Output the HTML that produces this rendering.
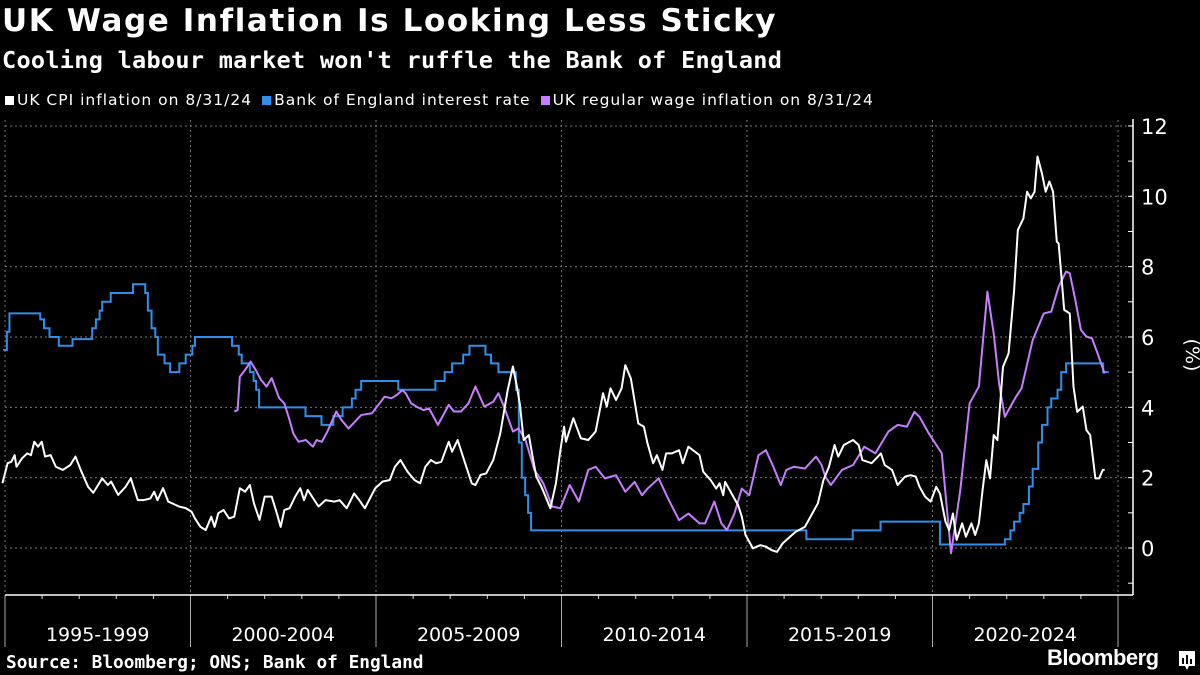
<!DOCTYPE html>
<html><head><meta charset="utf-8">
<style>
html,body{margin:0;padding:0;background:#000;}
body{width:1200px;height:675px;overflow:hidden;position:relative;font-family:"Liberation Sans",sans-serif;color:#fff;}
.title{position:absolute;left:2px;top:3px;font-family:"DejaVu Sans",sans-serif;font-size:31px;font-weight:bold;letter-spacing:1.6px;white-space:nowrap;}
.subtitle{position:absolute;left:2px;top:46px;font-family:"DejaVu Sans Mono",monospace;font-size:23.5px;font-weight:bold;white-space:nowrap;letter-spacing:0.3px;}
.legend{position:absolute;left:5px;top:91px;font-family:"DejaVu Sans",sans-serif;font-size:15.5px;display:flex;white-space:nowrap;letter-spacing:1.0px;}
.legend span.item{display:inline-flex;align-items:center;margin-right:10px;}
.sw{display:inline-block;width:9px;height:9px;margin-right:3px;}
.source{position:absolute;left:6px;top:652px;font-family:"DejaVu Sans Mono",monospace;font-size:17.8px;font-weight:bold;white-space:nowrap;}
.logo{position:absolute;left:1047px;top:645px;font-size:22px;font-weight:bold;letter-spacing:-0.5px;}
svg{position:absolute;left:0;top:0;}
</style></head>
<body>
<div class="title">UK Wage Inflation Is Looking Less Sticky</div>
<div class="subtitle">Cooling labour market won't ruffle the Bank of England</div>
<div class="legend">
 <span class="item"><span class="sw" style="background:#fff"></span>UK CPI inflation on 8/31/24</span>
 <span class="item"><span class="sw" style="background:#2f8fea"></span>Bank of England interest rate</span>
 <span class="item"><span class="sw" style="background:#c77dff"></span>UK regular wage inflation on 8/31/24</span>
</div>
<svg id="chart" width="1200" height="675"></svg>
<div class="source">Source: Bloomberg; ONS; Bank of England</div>
<div class="logo">Bloomberg</div>
<svg width="20" height="22" style="left:1177px;top:650px">
 <path d="M2 1h16v15h-6l-2 4-2-4H2z" fill="#fff"/>
 <rect x="5" y="8" width="2" height="6" fill="#000"/><rect x="9" y="5" width="2" height="9" fill="#000"/><rect x="13" y="9" width="2" height="5" fill="#000"/>
</svg>
<script>
const cpiT=[1994.93,1995.07,1995.17,1995.26,1995.31,1995.46,1995.6,1995.7,1995.79,1995.89,1995.99,1996.08,1996.23,1996.37,1996.56,1996.76,1996.9,1997.04,1997.24,1997.38,1997.62,1997.77,1997.86,1998.05,1998.25,1998.39,1998.58,1998.73,1998.92,1999.02,1999.11,1999.26,1999.4,1999.69,1999.88,2000.03,2000.12,2000.27,2000.41,2000.56,2000.65,2000.75,2000.89,2001.04,2001.18,2001.33,2001.47,2001.6,2001.71,2001.86,2002.0,2002.19,2002.34,2002.43,2002.53,2002.67,2002.82,2002.96,2003.06,2003.16,2003.45,2003.64,2003.88,2004.02,2004.21,2004.41,2004.55,2004.7,2004.98,2005.18,2005.37,2005.51,2005.66,2005.85,2006.04,2006.19,2006.33,2006.48,2006.62,2006.76,2006.96,2007.05,2007.2,2007.39,2007.58,2007.68,2007.82,2007.97,2008.16,2008.35,2008.55,2008.69,2008.79,2008.88,2008.98,2009.12,2009.22,2009.32,2009.46,2009.7,2009.85,
2009.97,2010.07,2010.12,2010.32,2010.52,2010.72,2010.92,2011.12,2011.22,2011.32,2011.47,2011.62,2011.72,2011.87,2012.07,2012.22,2012.32,2012.47,2012.57,2012.72,2012.82,2012.97,2013.17,2013.27,2013.42,2013.72,2013.82,2014.02,2014.17,2014.26,2014.36,2014.41,2014.61,2014.76,2014.86,2014.96,2015.16,2015.36,2015.51,2015.66,2015.81,2015.96,2016.16,2016.31,2016.56,2016.76,2016.91,2017.06,2017.21,2017.36,2017.46,2017.61,2017.86,2018.01,2018.11,2018.36,2018.61,2018.71,2018.91,2019.06,2019.26,2019.41,2019.55,2019.65,2019.8,2019.95,2020.1,2020.2,2020.35,2020.45,2020.55,2020.65,2020.8,2020.9,2021.05,2021.15,2021.25,2021.35,2021.45,2021.55,2021.65,2021.75,2021.9,2022.05,2022.2,2022.3,2022.45,2022.55,2022.65,2022.75,2022.83,2022.95,2023.05,2023.15,2023.25,2023.35,2023.4,2023.55,2023.7,2023.8,2023.9,2024.05,2024.15,2024.25,2024.39,2024.49,2024.59,2024.64];
const cpiV=[1.84,2.41,2.45,2.64,2.31,2.55,2.69,2.64,3.02,2.88,3.02,2.6,2.64,2.31,2.22,2.36,2.6,2.22,1.74,1.57,1.98,1.79,1.89,1.51,1.74,1.98,1.36,1.36,1.41,1.6,1.36,1.7,1.32,1.18,1.13,1.03,0.84,0.6,0.51,0.89,0.6,0.99,1.08,0.84,0.89,1.7,1.6,1.79,1.27,0.8,1.46,1.46,0.94,0.6,1.08,1.13,1.46,1.7,1.36,1.65,1.18,1.36,1.32,1.36,1.13,1.55,1.36,1.13,1.7,1.89,1.93,2.31,2.5,2.17,1.93,1.84,2.31,2.5,2.41,2.45,3.02,2.74,3.07,2.45,1.84,1.79,2.08,2.12,2.5,3.26,4.49,5.16,4.64,4.07,3.07,3.21,2.6,2.03,1.74,1.13,1.84,
2.78,3.45,3.02,3.69,3.12,3.07,3.31,4.4,4.02,4.54,4.21,4.54,5.2,4.82,3.54,3.45,2.97,2.41,2.64,2.22,2.69,2.69,2.78,2.41,2.88,2.64,2.17,1.93,1.69,1.84,1.5,1.88,1.5,1.22,0.89,0.37,-0.01,0.08,0.04,-0.06,-0.11,0.13,0.32,0.46,0.6,0.98,1.27,1.93,2.31,2.93,2.6,2.93,3.07,2.93,2.5,2.41,2.69,2.36,2.22,1.79,2.03,2.07,2.03,1.74,1.46,1.32,1.74,1.55,0.75,0.51,0.98,0.23,0.7,0.32,0.7,0.37,0.7,1.65,2.5,1.98,3.21,3.07,5.15,5.53,7.33,9.04,9.37,10.13,9.94,10.13,11.13,10.65,10.13,10.42,10.13,8.71,8.66,6.77,6.67,4.59,3.87,4.02,3.35,3.21,1.98,1.98,2.22,2.22];
const wageT=[2001.18,2001.27,2001.33,2001.47,2001.62,2001.76,2001.9,2002.05,2002.19,2002.39,2002.53,2002.67,2002.77,2002.91,2003.11,2003.3,2003.4,2003.54,2003.69,2003.93,2004.07,2004.26,2004.6,2004.89,2005.23,2005.42,2005.56,2005.71,2005.8,2005.95,2006.09,2006.28,2006.43,2006.67,2006.96,2007.1,2007.29,2007.49,2007.68,2007.92,2008.16,2008.3,2008.45,2008.69,2008.84,2009.03,2009.27,2009.51,2009.75,2009.97,2010.22,2010.47,2010.72,2010.92,2011.17,2011.47,2011.72,2011.97,2012.17,2012.32,2012.62,2012.87,2013.17,2013.42,2013.72,2013.87,2014.12,2014.31,2014.46,2014.66,2014.86,2015.06,2015.31,2015.51,2015.71,2015.91,2016.06,2016.26,2016.56,2016.86,2017.01,2017.11,2017.26,2017.56,2017.86,2018.16,2018.46,2018.81,2019.06,2019.31,2019.51,2019.65,2019.9,2020.25,2020.5,2020.75,2021.0,2021.25,2021.48,2021.65,2021.8,2021.95,2022.1,2022.25,2022.4,2022.7,2023.0,2023.2,2023.4,2023.6,2023.7,2023.85,2024.0,2024.15,2024.3,2024.45,2024.64];
const wageV=[3.88,3.92,4.87,5.06,5.3,5.06,4.78,4.59,4.83,4.26,4.11,3.64,3.26,3.02,3.07,2.88,3.07,3.02,3.31,3.88,3.64,3.4,3.78,3.83,4.3,4.26,4.35,4.49,4.4,4.11,4.02,3.92,3.97,3.5,4.07,3.88,3.88,4.11,4.59,4.02,4.16,4.4,4.02,3.31,3.4,3.07,2.22,1.84,1.18,1.13,1.79,1.32,2.22,2.31,1.98,2.07,1.6,1.88,1.5,1.69,1.98,1.41,0.79,0.98,0.7,0.7,1.32,0.7,0.51,0.98,1.69,1.5,2.64,2.78,2.31,1.79,2.22,2.31,2.26,2.6,2.36,2.03,1.79,2.22,2.36,2.88,2.69,3.31,3.5,3.45,3.87,3.73,3.26,2.69,-0.15,1.65,4.11,4.59,7.29,6.1,4.63,3.73,4.02,4.3,4.54,5.91,6.67,6.72,7.43,7.86,7.81,7.05,6.2,6.01,5.96,5.53,4.96];
const rateT=[1994.95,1995.05,1995.12,1995.95,1996.05,1996.2,1996.45,1996.82,1997.35,1997.45,1997.55,1997.62,1997.85,1998.45,1998.78,1998.85,1998.95,1999.05,1999.12,1999.3,1999.45,1999.7,1999.87,2000.05,2000.12,2001.12,2001.3,2001.38,2001.6,2001.7,2001.77,2001.85,2003.1,2003.53,2003.85,2004.1,2004.35,2004.45,2004.6,2005.6,2006.6,2006.85,2007.05,2007.35,2007.52,2007.95,2008.1,2008.3,2008.77,2008.85,2008.93,2009.02,2009.1,2009.18,2016.6,2017.85,2018.6,2020.2,2021.95,2022.1,2022.2,2022.35,2022.45,2022.6,2022.7,2022.85,2022.95,2023.1,2023.2,2023.37,2023.47,2023.6,2024.6];
const rateV=[5.63,6.15,6.67,6.5,6.25,6.0,5.75,5.94,6.25,6.5,6.75,7.0,7.25,7.5,7.25,6.75,6.25,6.0,5.5,5.25,5.0,5.25,5.5,5.75,6.0,5.75,5.5,5.25,5.0,4.75,4.5,4.0,3.75,3.5,3.75,4.0,4.25,4.5,4.75,4.5,4.75,5.0,5.25,5.5,5.75,5.5,5.25,5.0,4.5,3.0,2.0,1.5,1.0,0.5,0.25,0.5,0.75,0.1,0.25,0.5,0.75,1.0,1.25,1.75,2.25,3.0,3.5,4.0,4.25,4.5,5.0,5.25,5.0];
const rateEnd=2024.75;
const yTicks=[0,2,4,6,8,10,12];
const periodLabels=["1995-1999","2000-2004","2005-2009","2010-2014","2015-2019","2020-2024"];
const periodStarts=[1995,2000,2005,2010,2015,2020,2025];

const NS="http://www.w3.org/2000/svg";
const svg=document.getElementById('chart');
const X=t=>5+(t-1995)*37.1;
const Y=v=>548-v*35.17;
function mk(tag,attrs,parent){const e=document.createElementNS(NS,tag);for(const k in attrs)e.setAttribute(k,attrs[k]);(parent||svg).appendChild(e);return e;}

yTicks.forEach(v=>{
  const g=mk('line',{x1:5,x2:1133,y1:Y(v),y2:Y(v),stroke:'#777','stroke-width':1,'stroke-dasharray':'2,3'});
  
  
});
periodStarts.forEach(y=>{
  const g=mk('line',{x1:X(y),x2:X(y),y1:120,y2:595,stroke:'#777','stroke-width':1,'stroke-dasharray':'2,3'});
  
  
  const s=mk('line',{x1:X(y),x2:X(y),y1:595,y2:647,stroke:'#aaa','stroke-width':1});
  
  
});
for(let yr=1996;yr<2025;yr++){
  if(yr%5===0)continue;
  const t=mk('line',{x1:X(yr),x2:X(yr),y1:595,y2:599,stroke:'#ddd','stroke-width':1});
  
  
}
periodLabels.forEach((l,i)=>{
  const tx=mk('text',{x:(X(periodStarts[i])+X(periodStarts[i+1]))/2,y:641,fill:'#fff','font-size':19,'text-anchor':'middle','font-family':'DejaVu Sans, sans-serif'});
  tx.textContent=l;
  
  
});
const xa=mk('line',{x1:5,x2:1133,y1:595,y2:595,stroke:'#fff','stroke-width':1.5});


const ya=mk('line',{x1:1133,x2:1133,y1:119,y2:595,stroke:'#fff','stroke-width':1.5});


for(let v=-1;v<=12;v++){
  const tk=mk('line',{x1:1128,x2:1133,y1:Y(v),y2:Y(v),stroke:'#fff','stroke-width':1});
  
  
}
yTicks.forEach(v=>{
  const tx=mk('text',{x:1141,y:Y(v)+8,fill:'#fff','font-size':21,'font-family':'DejaVu Sans, sans-serif'});
  tx.textContent=v;
  
  
});
const yt=mk('text',{x:1186,y:355,fill:'#fff','font-size':19,'text-anchor':'middle',transform:'rotate(90 1186 355)','font-family':'DejaVu Sans, sans-serif'});
yt.textContent='(%)';



let d='';
rateT.forEach((t,i)=>{ if(i===0)d+=`M${X(t)},${Y(rateV[i])}`; else d+=`H${X(t)}V${Y(rateV[i])}`; });
d+=`H${X(rateEnd)}`;
const rp=mk('path',{d:d,fill:'none',stroke:'#2f8fea','stroke-width':2});



const wp=mk('path',{d:wageT.map((t,i)=>(i?'L':'M')+X(t)+','+Y(wageV[i])).join(''),fill:'none',stroke:'#c77dff','stroke-width':2,'stroke-linejoin':'round'});



const cp=mk('path',{d:cpiT.map((t,i)=>(i?'L':'M')+X(t)+','+Y(cpiV[i])).join(''),fill:'none',stroke:'#fff','stroke-width':2,'stroke-linejoin':'round'});


</script>
</body></html>
